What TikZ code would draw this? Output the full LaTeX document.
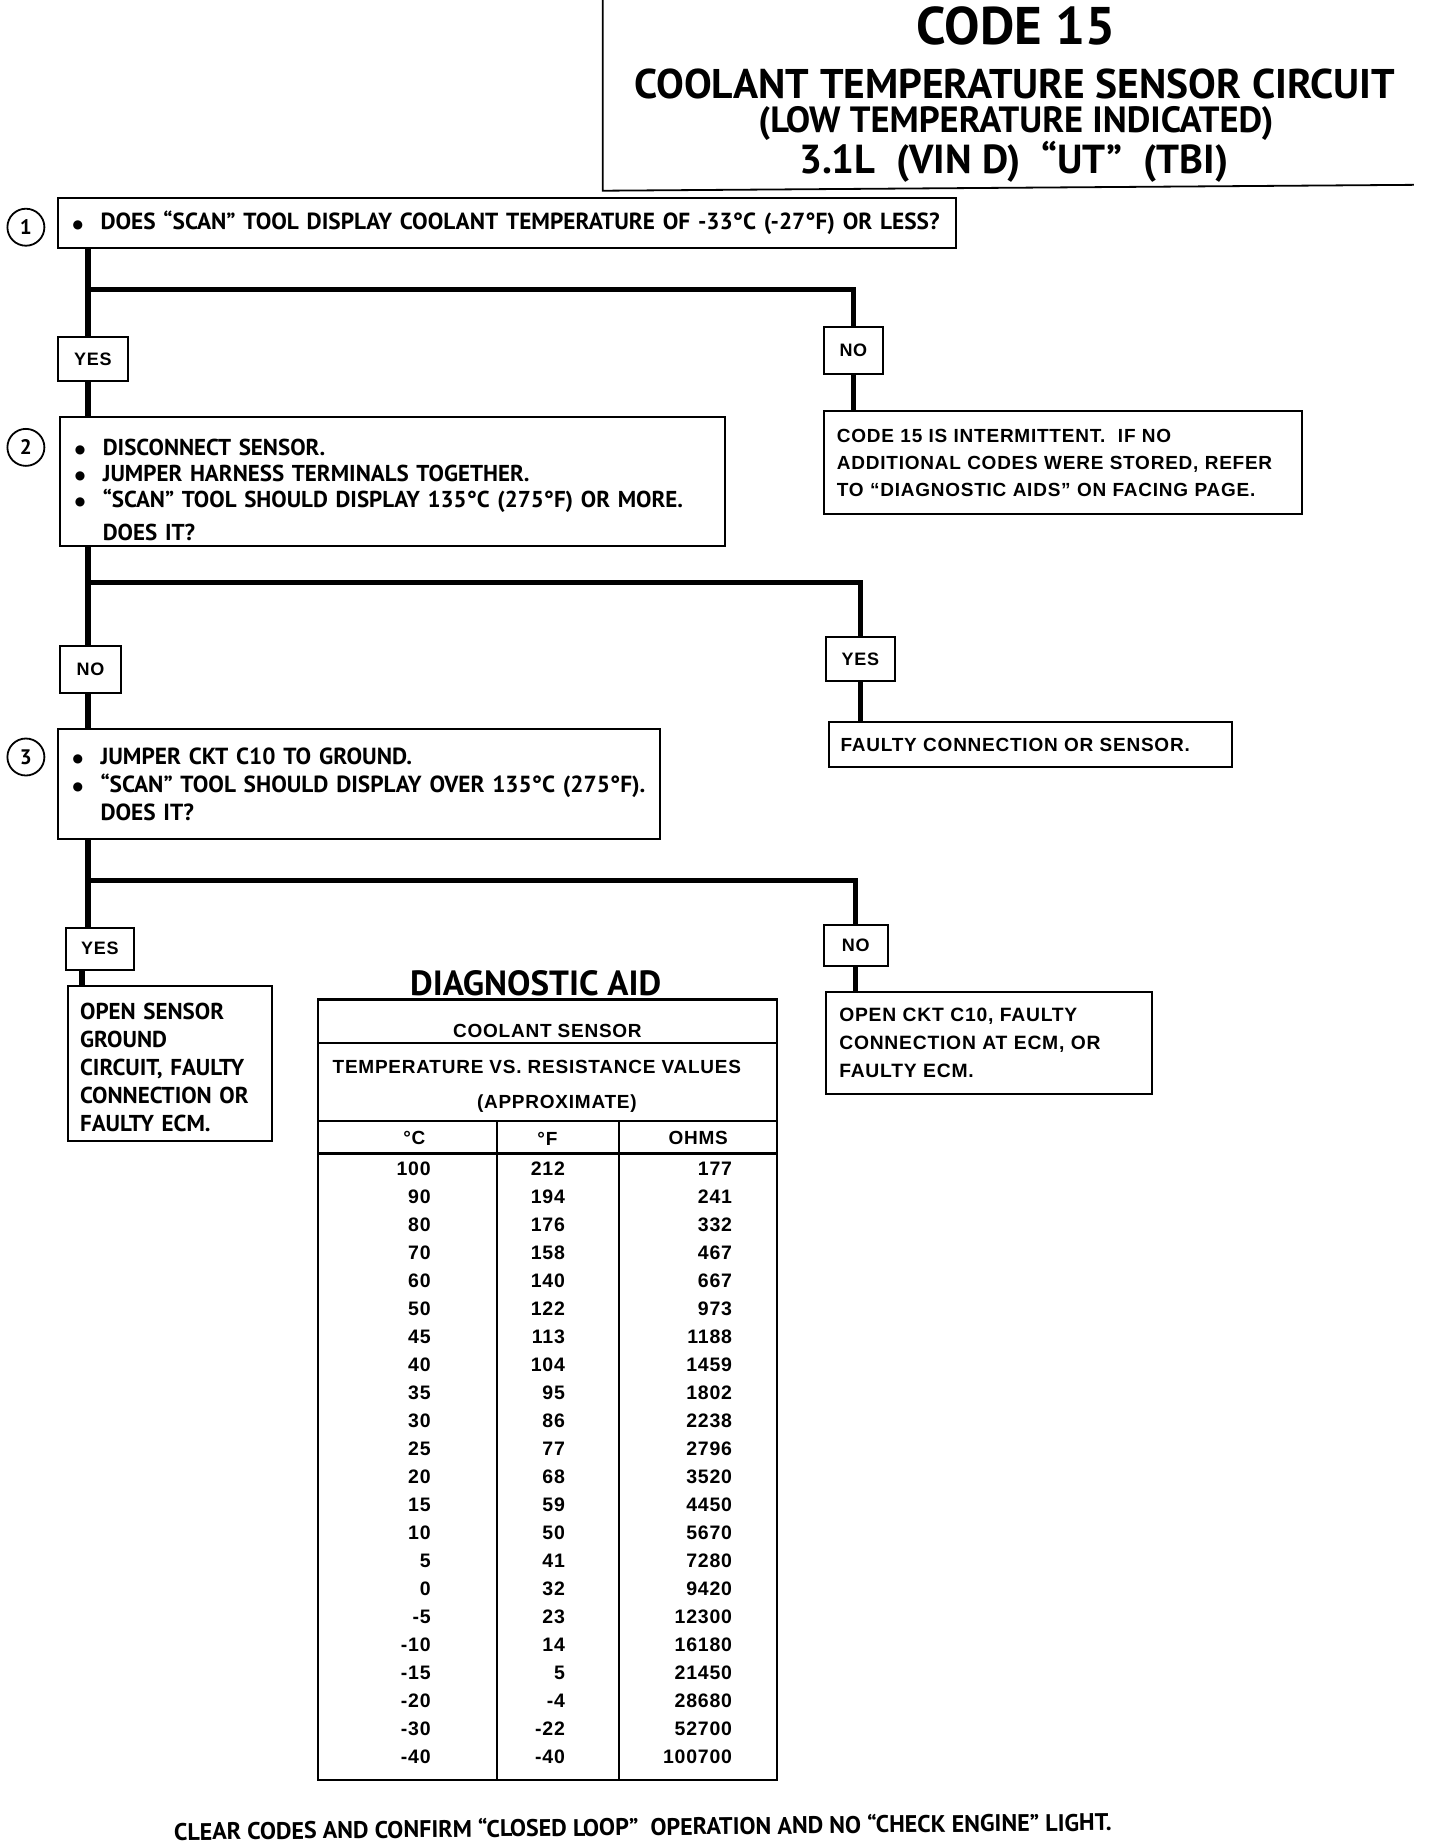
\documentclass[tikz,border=0pt]{standalone}
\usepackage{fontspec}
\setmainfont{PT Sans}
\newfontfamily\widef[LetterSpace=4]{Liberation Sans}
\newfontfamily\symf{DejaVu Sans}
\newcommand\bodyf{\fontsize{23}{26}\selectfont\bfseries}
\newcommand\wbody{\widef\fontsize{19}{27}\selectfont\bfseries}
\newcommand\wtag{\widef\fontsize{18}{18}\selectfont\bfseries}
\newcommand\wnum{\widef\fontsize{19.5}{19.5}\selectfont\bfseries}
\newcommand\whead{\widef\fontsize{19}{19}\selectfont\bfseries}
\newcommand\li[1]{\mbox{\makebox[28pt][l]{\symf\fontsize{12}{12}\selectfont\raisebox{1.5pt}{●}}#1}}
\newcommand\ind{\hspace*{28pt}}
\begin{document}
\begin{tikzpicture}[x=1.1774pt,y=-1.1774pt,
  box/.style={draw, line width=2pt, anchor=north west, align=left, inner ysep=0pt, inner xsep=15pt, font=\bodyf},
  wbox/.style={box, font=\wbody, inner xsep=13pt},
  tag/.style={draw, line width=2pt, anchor=north west, inner sep=0pt, font=\wtag},
  num/.style={circle, draw, line width=1.8pt, minimum size=37pt, inner sep=0pt, font=\fontsize{21}{21}\selectfont\bfseries},
  ttl/.style={inner sep=0pt},
  trunk/.style={line width=6pt},
  branch/.style={line width=5pt},
  cell/.style={font=\wnum, anchor=east, inner sep=0pt},
  head/.style={font=\whead, inner sep=0pt}]
\useasboundingbox (0,0) rectangle (1223,1568);

% title
\draw[line width=1.8pt] (512,0) -- (512,162) -- (1201,157);
\node[ttl, font=\fontsize{53}{53}\selectfont\bfseries] (t1) at (863,22) {CODE 15};
\node[ttl, font=\fontsize{41.5}{41.5}\selectfont\bfseries] (t2) at (862,71) {COOLANT TEMPERATURE SENSOR CIRCUIT};
\node[ttl, font=\fontsize{36.5}{36.5}\selectfont\bfseries] (t3) at (863,105) {(LOW TEMPERATURE INDICATED)};
\node[ttl, font=\fontsize{40.5}{40.5}\selectfont\bfseries] (t4) at (861,137) {3.1L\ \ (VIN D)\ \ “UT”\ \ (TBI)};

% step 1
\node[num] (n1) at (22,193) {1};
\node[box, text width=869pt, minimum height=50.6pt, font=\fontsize{23.3}{26}\selectfont\bfseries] (b1) at (48,167) {\li{DOES “SCAN” TOOL DISPLAY COOLANT TEMPERATURE OF -33°C (-27°F) OR LESS?}};
\node[tag, minimum width=70.6pt, minimum height=44.7pt] (y1) at (48,285) {YES};
\node[tag, minimum width=58.9pt, minimum height=47.1pt] (no1) at (699,277) {NO};
\node[wbox, text width=452pt, minimum height=103.6pt] (r1) at (699,348) {\mbox{CODE 15 IS INTERMITTENT.\ \ IF NO}\\\mbox{ADDITIONAL CODES WERE STORED, REFER}\\\mbox{TO “DIAGNOSTIC AIDS” ON FACING PAGE.}};

% step 2
\node[num] (n2) at (22,380) {2};
\node[box, text width=635pt, minimum height=129.5pt] (b2) at (50,353) {\rule{0pt}{33pt}\li{DISCONNECT SENSOR.}\\\li{JUMPER HARNESS TERMINALS TOGETHER.}\\\li{“SCAN” TOOL SHOULD DISPLAY 135°C (275°F) OR MORE.}\\[7pt]\ind DOES IT?};
\node[tag, minimum width=61.2pt, minimum height=47.1pt] (no2) at (50,548) {NO};
\node[tag, minimum width=68.3pt, minimum height=44.7pt] (y2) at (701,540) {YES};
\node[wbox, inner xsep=12pt, text width=379pt, minimum height=45.9pt] (r2) at (703,612) {\mbox{FAULTY CONNECTION OR SENSOR.}};

% step 3
\node[num] (n3) at (22,643) {3};
\node[box, text width=573pt, minimum height=110.7pt, font=\fontsize{23.3}{28}\selectfont\bfseries] (b3) at (48,618) {\li{JUMPER CKT C10 TO GROUND.}\\\li{“SCAN” TOOL SHOULD DISPLAY OVER 135°C (275°F).}\\\ind DOES IT?};
\node[tag, minimum width=68.3pt, minimum height=42.4pt] (y3) at (55,787) {YES};
\node[tag, minimum width=63.6pt, minimum height=41.2pt] (no3) at (699,785) {NO};
\node[box, inner xsep=12pt, text width=179.7pt, minimum height=154.2pt, font=\fontsize{23}{28}\selectfont\bfseries] (r3) at (57,837) {\rule{0pt}{24pt}OPEN SENSOR\\GROUND\\\mbox{CIRCUIT, FAULTY}\\\mbox{CONNECTION OR}\\\mbox{FAULTY ECM.}};
\node[wbox, text width=300pt, minimum height=101.3pt, font=\widef\fontsize{19.3}{28}\selectfont\bfseries] (r4) at (701,842) {\mbox{OPEN CKT C10, FAULTY}\\\mbox{CONNECTION AT ECM, OR}\\FAULTY ECM.};

% connectors
\coordinate (j1) at (75,246);
\coordinate (j2) at (75,495);
\coordinate (j3) at (75,748);
\draw[trunk] (j1 |- b1.south) -- (j1 |- y1.north);
\draw[branch] (j1) -| (no1.north);
\draw[trunk] (j1 |- y1.south) -- (j1 |- b2.north);
\draw[branch] (no1.south) -- (no1.south |- r1.north);

\draw[trunk] (j2 |- b2.south) -- (j2 |- no2.north);
\draw[branch] (j2) -| (y2.north);
\draw[trunk] (j2 |- no2.south) -- (j2 |- b3.north);
\draw[branch] (y2.south) -- (y2.south |- r2.north);

\draw[trunk] (j3 |- b3.south) -- (j3 |- y3.north);
\draw[branch] (j3) -| (no3.north);
\coordinate (k3) at (70,830);
\draw[trunk] (k3 |- y3.south) -- (k3 |- r3.north);
\draw[branch] (no3.south) -- (no3.south |- r4.north);

% diagnostic aid table
\node[ttl, font=\fontsize{35}{35}\selectfont\bfseries] (da) at (455,835) {DIAGNOSTIC AID};
\draw[line width=2.4pt] (270,849) rectangle (660,1512);
\draw[line width=2pt] (270,886) -- (660,886);
\draw[line width=2.4pt] (270,952) -- (660,952);
\draw[line width=3pt] (270,980) -- (660,980);
\draw[line width=2pt] (422,952) -- (422,1512);
\draw[line width=2pt] (526,952) -- (526,1512);
\node[head] (h1) at (465,876) {COOLANT SENSOR};
\node[head] (h2) at (456,906) {TEMPERATURE VS. RESISTANCE VALUES};
\node[head] (h3) at (473,937) {(APPROXIMATE)};
\node[head] (hc) at (352,967) {°C};
\node[head] (hf) at (465,967) {°F};
\node[head] (ho) at (593,967) {OHMS};
\foreach \c/\f/\o [count=\i from 0] in {100/212/177,90/194/241,80/176/332,70/158/467,60/140/667,50/122/973,45/113/1188,40/104/1459,35/95/1802,30/86/2238,25/77/2796,20/68/3520,15/59/4450,10/50/5670,5/41/7280,0/32/9420,-5/23/12300,-10/14/16180,-15/5/21450,-20/-4/28680,-30/-22/52700,-40/-40/100700}{
  \node[cell] (c\i) at (366,{993+23.76*\i}) {\c};
  \node[cell] (f\i) at (480,{993+23.76*\i}) {\f};
  \node[cell] (o\i) at (622,{993+23.76*\i}) {\o};
}

% footer
\node[ttl, font=\fontsize{24}{24}\selectfont\bfseries, rotate=0.6] (ft) at (546,1551) {CLEAR CODES AND CONFIRM “CLOSED LOOP”\ \ OPERATION AND NO “CHECK ENGINE” LIGHT.};
\end{tikzpicture}
\end{document}
